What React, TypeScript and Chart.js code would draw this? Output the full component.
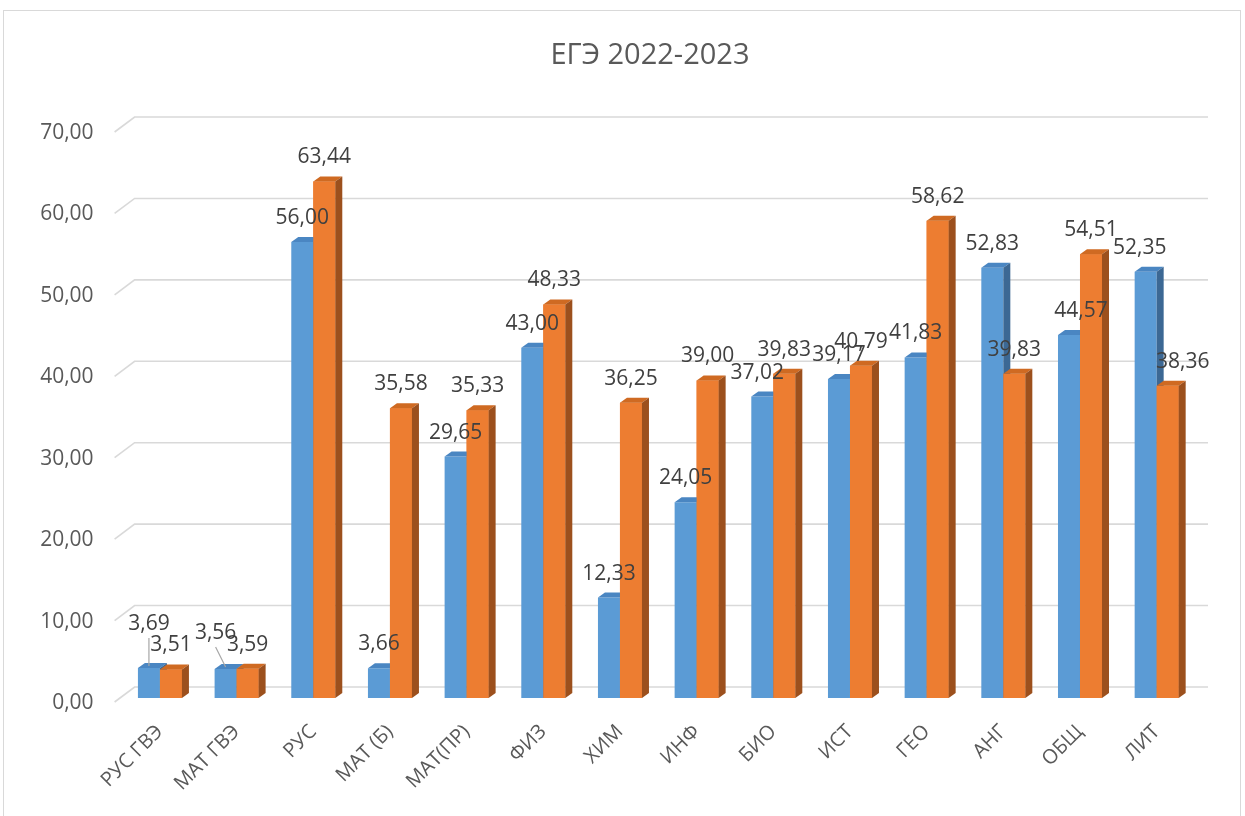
import React, { useEffect, useRef } from "react";
import { Chart, registerables } from "chart.js";

Chart.register(...registerables);

const chartTitle = "ЕГЭ 2022-2023";
const categories = ["РУС ГВЭ", "МАТ ГВЭ", "РУС", "МАТ (Б)", "МАТ(ПР)", "ФИЗ", "ХИМ", "ИНФ", "БИО", "ИСТ", "ГЕО", "АНГ", "ОБЩ", "ЛИТ"];
const series2022 = [3.69, 3.56, 56.0, 3.66, 29.65, 43.0, 12.33, 24.05, 37.02, 39.17, 41.83, 52.83, 44.57, 52.35];
const series2023 = [3.51, 3.59, 63.44, 35.58, 35.33, 48.33, 36.25, 39.0, 39.83, 40.79, 58.62, 39.83, 54.51, 38.36];
const yMin = 0;
const yMax = 70;
const yStep = 10;

const FONT = "'Open Sans', 'Noto Sans', sans-serif";
const fmt = (v: number) => v.toFixed(2).replace(".", ",");

const faceColors = [
  { top: "#4a86c2", side: "#3c6894" },
  { top: "#cf6a22", side: "#9c501d" },
];

// label nudges [dataset, index] -> [dx, dy, leader]
const nudges: Record<string, [number, number, boolean]> = {
  "0-0": [0, -20, true],
  "0-1": [-10, -12, true],
  "0-8": [-5, 0, false],
  "0-12": [12, 0, false],
  "0-13": [-6, 0, false],
  "1-13": [15, 0, false],
};

const threeD = {
  id: "threeD",
  beforeDraw(chart: any) {
    const ctx = chart.ctx;
    ctx.save();
    ctx.fillStyle = "#ffffff";
    ctx.fillRect(0, 0, chart.width, chart.height);
    ctx.strokeStyle = "#d9d9d9";
    ctx.lineWidth = 1;
    ctx.strokeRect(3.5, 10.5, 1237, 830);
    ctx.restore();
  },
  beforeDatasetsDraw(chart: any) {
    const ctx = chart.ctx;
    const y = chart.scales.y;
    const { left, right } = chart.chartArea;
    ctx.save();
    ctx.strokeStyle = "#d9d9d9";
    ctx.lineWidth = 1.6;
    for (let v = yMin; v <= yMax; v += yStep) {
      const py = y.getPixelForValue(v);
      ctx.beginPath();
      ctx.moveTo(left - 7, py + 4);
      ctx.lineTo(left + 13, py - 11);
      ctx.lineTo(right + 13, py - 11);
      ctx.stroke();
    }
    ctx.restore();
  },
  afterDatasetsDraw(chart: any) {
    const ctx = chart.ctx;
    const dx = 7;
    const dy = -5;
    const metas = [chart.getDatasetMeta(0), chart.getDatasetMeta(1)];
    ctx.save();
    for (let i = 0; i < categories.length; i++) {
      for (let d = 0; d < 2; d++) {
        const bar = metas[d].data[i];
        if (d === 1) bar.draw(ctx);
        const L = bar.x - bar.width / 2;
        const R = bar.x + bar.width / 2;
        const T = bar.y;
        const B = bar.base;
        ctx.fillStyle = faceColors[d].top;
        ctx.beginPath();
        ctx.moveTo(L, T);
        ctx.lineTo(R, T);
        ctx.lineTo(R + dx, T + dy);
        ctx.lineTo(L + dx, T + dy);
        ctx.closePath();
        ctx.fill();
        ctx.fillStyle = faceColors[d].side;
        ctx.beginPath();
        ctx.moveTo(R, T);
        ctx.lineTo(R + dx, T + dy);
        ctx.lineTo(R + dx, B + dy);
        ctx.lineTo(R, B);
        ctx.closePath();
        ctx.fill();
      }
    }
    // data labels
    ctx.font = `21px ${FONT}`;
    ctx.fillStyle = "#404040";
    ctx.textAlign = "center";
    ctx.textBaseline = "middle";
    for (let d = 0; d < 2; d++) {
      const vals = d === 0 ? series2022 : series2023;
      metas[d].data.forEach((bar: any, i: number) => {
        const n = nudges[`${d}-${i}`] || [0, 0, false];
        const lx = bar.x + n[0];
        const ly = bar.y - 24 + n[1];
        if (n[2]) {
          ctx.save();
          ctx.strokeStyle = "#a6a6a6";
          ctx.lineWidth = 1.2;
          ctx.beginPath();
          ctx.moveTo(lx, ly + 14);
          ctx.lineTo(bar.x, bar.y - 2);
          ctx.stroke();
          ctx.restore();
        }
        ctx.fillText(fmt(vals[i]), lx, ly);
      });
    }
    // title
    ctx.font = `29px ${FONT}`;
    ctx.fillStyle = "#595959";
    ctx.fillText(chartTitle, 650, 56);
    ctx.restore();
  },
};

export default function App() {
  const ref = useRef<HTMLCanvasElement | null>(null);
  useEffect(() => {
    document.body.style.margin = "0";
    const chart = new Chart(ref.current as HTMLCanvasElement, {
      type: "bar",
      data: {
        labels: categories,
        datasets: [
          { label: "2022", data: series2022, backgroundColor: "#5b9bd5", categoryPercentage: 0.574, barPercentage: 1 },
          { label: "2023", data: series2023, backgroundColor: "#ed7d31", categoryPercentage: 0.574, barPercentage: 1 },
        ],
      },
      options: {
        animation: false,
        responsive: false,
        layout: { padding: { top: 128, right: 50, left: 0, bottom: 0 } },
        plugins: {
          legend: { display: false },
          title: { display: false },
          tooltip: { enabled: false },
        },
        scales: {
          x: {
            grid: { display: false, drawTicks: false },
            border: { display: false },
            ticks: {
              autoSkip: false,
              minRotation: 45,
              maxRotation: 45,
              padding: 22,
              color: "#595959",
              font: { family: FONT, size: 20 },
            },
            afterFit: (s: any) => {
              s.height = 118;
            },
          },
          y: {
            min: yMin,
            max: yMax,
            grid: { display: false, drawTicks: false },
            border: { display: false },
            ticks: {
              stepSize: yStep,
              padding: 28,
              labelOffset: 5,
              color: "#595959",
              font: { family: FONT, size: 21 },
              callback: (v: any) => fmt(Number(v)),
            },
            afterFit: (s: any) => {
              s.width = 121.6;
            },
          },
        },
      },
      plugins: [threeD],
    });
    return () => chart.destroy();
  }, []);
  return (
    <div style={{ position: "absolute", left: 0, top: 0, width: 1245, height: 816 }}>
      <canvas ref={ref} width={1245} height={816} />
    </div>
  );
}
